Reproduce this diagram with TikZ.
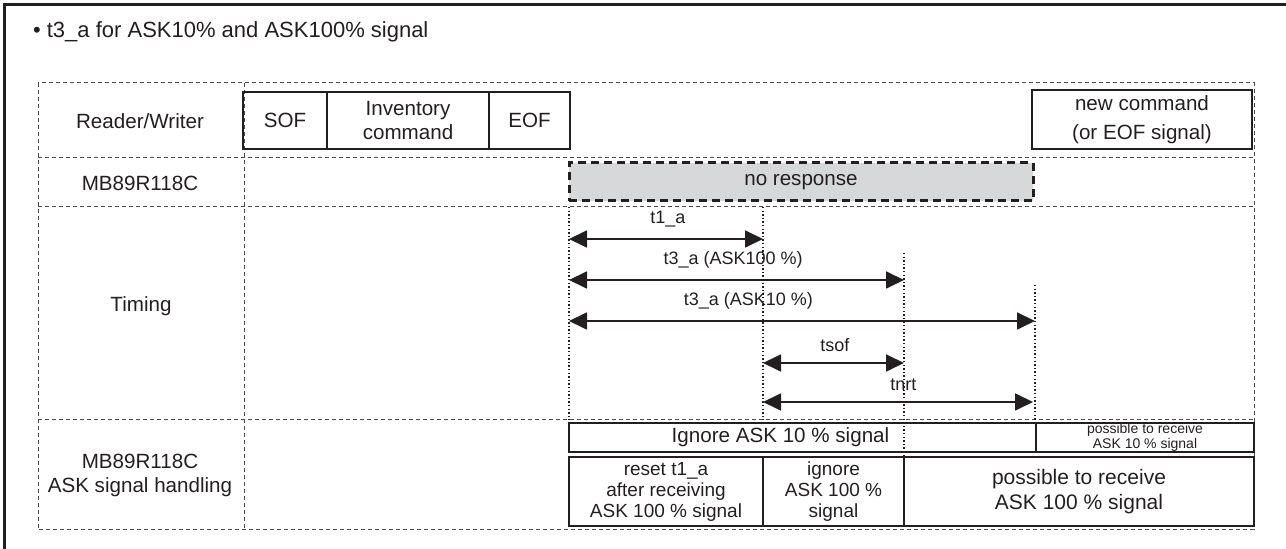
\documentclass[tikz,border=0pt]{standalone}
\usepackage{fontspec}
\setmainfont{Liberation Sans}
\usetikzlibrary{arrows.meta}
\definecolor{inkc}{HTML}{231F20}
\definecolor{gridc}{HTML}{4A4A4A}
\definecolor{greyfill}{HTML}{D7D8DA}

\begin{document}
\begin{tikzpicture}[x=0.5pt, y=-0.5pt,
    every node/.style={text=inkc, font=\fontsize{10.3}{12}\selectfont},
    grid/.style={gridc, line width=0.5pt, dash pattern=on 2pt off 1.5pt},
    guide/.style={inkc, line width=0.6pt, dash pattern=on 0.7pt off 1.1pt},
    cmdbox/.style={draw=inkc, line width=1pt, inner sep=0pt, align=center},
    hbox/.style={cmdbox, minimum height=34.5pt, font=\fontsize{9.5}{10.5}\selectfont},
    span/.style={inkc, line width=0.9pt, {Triangle[length=9pt,width=8.5pt]}-{Triangle[length=9pt,width=8.5pt]}},
    lbl/.style={above=2pt, font=\fontsize{9}{10}\selectfont}]
        \useasboundingbox (0,0) rectangle (1286,549);
        \clip (0,0) rectangle (1286,549);
        % frame and title
        \draw[inkc, line width=1.5pt] (4,600) -- (4,5) -- (1320,5);
        \node[anchor=west, font=\fontsize{11}{13}\selectfont] (title) at (26,32) {• t3\_a for ASK10\% and ASK100\% signal};
        %
        % Table grid
        \draw[grid] (38,83) rectangle (1254,530);
        \draw[grid] (38,158) -- (1254,158);
        \draw[grid] (38,207) -- (1254,207);
        \draw[grid] (38,420) -- (1254,420);
        \draw[grid] (244,83) -- (244,530);
        % Row labels
        \node (rw) at (140,121) {Reader/Writer};
        \node (chip) at (140,183) {MB89R118C};
        \node (timing) at (141,306) {Timing};
        \node[align=center] (ask) at (140,475) {MB89R118C\\ASK signal handling};
        %
        % Reader/Writer frames
        \node[cmdbox, minimum width=42pt, minimum height=28.5pt] (sof) at (285,120.5) {SOF};
        \node[cmdbox, minimum width=81pt, minimum height=28.5pt] (inv) at (408,120.5) {Inventory\\command};
        \node[cmdbox, minimum width=40.5pt, minimum height=28.5pt] (eof) at (529.5,120.5) {EOF};
        \node[cmdbox, minimum width=110pt, minimum height=29.5pt, font=\fontsize{10.3}{14.5}\selectfont] (newcmd) at (1142,119.5) {new command\\(or EOF signal)};
        % Tag answer
        \node[draw=inkc, fill=greyfill, line width=1.5pt, dash pattern=on 4pt off 2.5pt, inner sep=0pt, minimum width=232pt, minimum height=19pt] (noresp) at (801,182) {no response};
        %
        % Timing marks
        \coordinate (a0) at (569,207);  \coordinate (a1) at (569,420);
        \coordinate (b0) at (763,207);  \coordinate (b1) at (763,420);
        \coordinate (c0) at (904,253);  \coordinate (c1) at (904,457);
        \coordinate (d0) at (1035,285); \coordinate (d1) at (1035,420);
        \draw[guide] (a0) -- (a1);
        \draw[guide] (b0) -- (b1);
        \draw[guide] (c0) -- (c1);
        \draw[guide] (d0) -- (d1);
        \coordinate (t1L) at (569,239);  \coordinate (t1R) at (763,239);
        \coordinate (t3hL) at (569,280); \coordinate (t3hR) at (904,280);
        \coordinate (t3tL) at (569,321); \coordinate (t3tR) at (1035,321);
        \coordinate (sofL) at (763,363); \coordinate (sofR) at (904,363);
        \coordinate (nrtL) at (763,402); \coordinate (nrtR) at (1033,402);
        \draw[span] (t1L) -- node[lbl, pos=0.51] {t1\_a} (t1R);
        \draw[span] (t3hL) -- node[lbl, pos=0.49] {t3\_a (ASK100 \%)} (t3hR);
        \draw[span] (t3tL) -- node[lbl, pos=0.385] {t3\_a (ASK10 \%)} (t3tR);
        \draw[span] (sofL) -- node[lbl, pos=0.51] {tsof} (sofR);
        \draw[span] (nrtL) -- node[lbl, above=0pt, pos=0.52] {tnrt} (nrtR);
        %
        % ASK signal handling
        \node[cmdbox, minimum width=233.5pt, minimum height=14.5pt, label={[xshift=-11pt]center:Ignore ASK 10 \% signal}] (ign10) at (802.5,437.5) {};
        \node[cmdbox, minimum width=109pt, minimum height=14.5pt, font=\fontsize{7}{6}\selectfont] (pos10) at (1145,437.5) {possible to receive\\ASK 10 \% signal};
        \node[hbox, minimum width=97pt] (reset) at (666,491.5) {reset t1\_a\\after receiving\\ASK 100 \% signal};
        \node[hbox, minimum width=70.5pt] (ign100) at (833.5,491.5) {ignore\\ASK 100 \%\\signal};
        \node[hbox, minimum width=175pt, font=\fontsize{10.5}{12.5}\selectfont] (pos100) at (1079,491.5) {possible to receive\\ASK 100 \% signal};
\end{tikzpicture}
\end{document}
